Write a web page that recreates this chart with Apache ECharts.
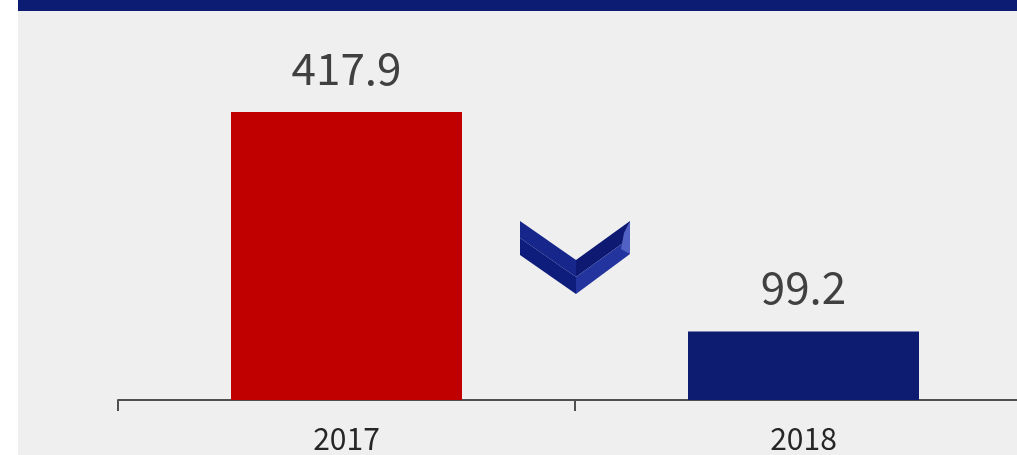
<!DOCTYPE html>
<html>
<head>
<meta charset="utf-8">
<script src="https://cdn.jsdelivr.net/npm/echarts@6/dist/echarts.min.js"></script>
<style>
  html, body { margin: 0; padding: 0; background: #fff; }
  #chart { width: 1017px; height: 455px; }
</style>
</head>
<body>
<div id="chart"></div>
<script>
// data
var years = ['2017', '2018'];
var values = [417.9, 99.2];
var barColors = ['#c00000', '#0d1b70'];

var chart = echarts.init(document.getElementById('chart'));

// chevron pieces (decoration between the bars)
function poly(points, color) {
  return { type: 'polygon', silent: true, z: 5, shape: { points: points }, style: { fill: color } };
}

var option = {
  backgroundColor: '#ffffff',
  animation: false,
  graphic: [
    { type: 'rect', silent: true, z: -10, shape: { x: 18, y: 0, width: 999, height: 455 }, style: { fill: '#efefef' } },
    { type: 'rect', silent: true, z: 5, shape: { x: 18, y: 0, width: 999, height: 11 }, style: { fill: '#0c1c73' } },
    poly([[520, 221], [576, 260], [576, 277], [520, 238]], '#16268a'),
    poly([[520, 238], [576, 277], [576, 294], [520, 255]], '#0e1c7c'),
    poly([[576, 260], [630, 221], [630, 238], [576, 277]], '#0e1a72'),
    poly([[576, 277], [630, 238], [630, 254], [576, 294]], '#24349e'),
    poly([[630, 221], [630, 254], [621, 249], [624, 233]], '#5262c4')
  ],
  grid: {
    left: 118,
    top: 14,
    width: 914,
    height: 386,
    outerBoundsMode: 'none'
  },
  xAxis: {
    type: 'category',
    data: years,
    axisLine: { lineStyle: { color: '#505050', width: 2 } },
    axisTick: { show: true, length: 11, lineStyle: { color: '#505050', width: 2 } },
    axisLabel: {
      color: '#262626',
      fontSize: 30,
      fontFamily: 'Noto Sans CJK SC',
      margin: 24
    }
  },
  yAxis: {
    type: 'value',
    min: 0,
    max: 560,
    show: false,
    splitLine: { show: false }
  },
  series: [{
    type: 'bar',
    barWidth: 231,
    data: values.map(function (v, i) {
      return { value: v, itemStyle: { color: barColors[i] } };
    }),
    label: {
      show: true,
      position: 'top',
      distance: 22,
      color: '#404040',
      fontSize: 44,
      fontFamily: 'Noto Sans CJK SC'
    }
  }]
};

chart.setOption(option);
</script>
</body>
</html>
